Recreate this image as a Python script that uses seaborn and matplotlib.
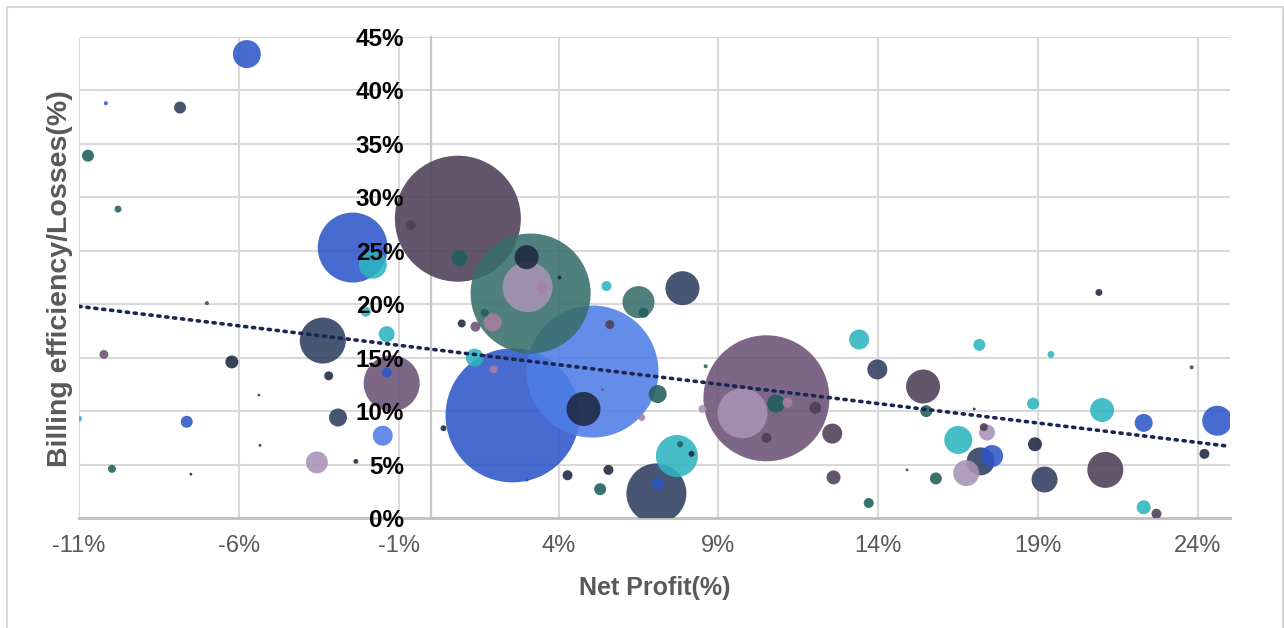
import numpy as np
import pandas as pd
import seaborn as sns
import matplotlib.pyplot as plt
from matplotlib.lines import Line2D

# ---------------- data ----------------
net_profit = [
    -5.75, -10.16, -7.84, -10.72, -9.78, -2.44, -1.81, 0.85, -0.63, -7.0,
    -2.03, -3.375, -1.375, -1.22, -1.375, -3.19, -6.22, -10.22, -5.375, -11.0,
    -7.63, -2.9, -1.5, -5.34, -3.56, -2.34, -9.97, -7.5, 0.9, 3.125,
    3.0, 3.03, 3.47, 4.03, 5.5, 6.5, 6.66, 7.875, 1.69, 0.97,
    1.4, 1.94, 5.06, 5.6, 2.56, 1.375, 1.97, 4.78, 5.375, 7.1,
    6.6, 0.4, 7.7, 7.8, 8.16, 7.06, 7.1, 4.28, 5.56, 5.3,
    3.0, 8.6, 8.5, 10.5, 9.75, 10.8, 11.16, 10.5, 12.03, 12.56,
    12.6, 13.4, 13.97, 15.4, 15.5, 17.16, 19.4, 23.8, 17.0, 16.5,
    17.3, 17.4, 17.2, 17.56, 16.75, 14.9, 15.8, 13.7, 18.84, 18.9,
    19.2, 21.0, 21.1, 22.3, 24.6, 24.2, 22.3, 22.7, 20.9,
]
billing_losses = [
    43.4, 38.8, 38.4, 33.9, 28.9, 25.3, 23.7, 28.0, 27.4, 20.1,
    19.3, 16.6, 17.2, 12.6, 13.6, 13.3, 14.6, 15.3, 11.5, 9.3,
    9.0, 9.4, 7.7, 6.8, 5.2, 5.3, 4.6, 4.1, 24.3, 21.0,
    24.4, 21.6, 21.5, 22.5, 21.7, 20.2, 19.2, 21.5, 19.2, 18.2,
    17.9, 18.3, 13.7, 18.1, 9.6, 15.0, 13.9, 10.2, 12.0, 11.6,
    9.4, 8.4, 5.8, 6.9, 6.0, 2.3, 3.2, 4.0, 4.5, 2.7,
    3.6, 14.2, 10.2, 11.2, 9.8, 10.7, 10.8, 7.5, 10.3, 7.9,
    3.8, 16.7, 13.9, 12.3, 10.0, 16.2, 15.3, 14.1, 10.2, 7.3,
    8.5, 8.0, 5.3, 5.8, 4.2, 4.5, 3.7, 1.4, 10.7, 6.9,
    3.6, 10.1, 4.5, 8.9, 9.1, 6.0, 1.0, 0.4, 21.1,
]
volume = [
    196, 4, 36, 36, 12, 1225, 196, 3969, 25, 4,
    25, 529, 64, 784, 25, 20, 42, 20, 2, 9,
    36, 81, 100, 2, 121, 6, 16, 2, 64, 3600,
    144, 625, 25, 4, 25, 256, 25, 289, 16, 16,
    25, 81, 4356, 20, 4489, 81, 16, 289, 2, 81,
    12, 9, 441, 9, 9, 900, 36, 25, 25, 36,
    4, 4, 16, 3969, 625, 81, 25, 25, 36, 100,
    49, 100, 100, 289, 36, 36, 12, 4, 2, 196,
    16, 64, 196, 121, 169, 2, 36, 25, 36, 49,
    169, 144, 324, 81, 225, 25, 49, 25, 12,
]
group = [
    "B", "B", "N", "T", "T", "B", "C", "P", "P", "P",
    "C", "N", "C", "M", "B", "K", "K", "M", "N", "C",
    "B", "N", "L", "K", "V", "K", "T", "K", "T", "G",
    "K", "V", "R", "K", "C", "G", "T", "N", "T", "K",
    "M", "R", "L", "P", "B", "C", "R", "K", "M", "T",
    "R", "K", "C", "T", "K", "N", "B", "K", "K", "T",
    "B", "T", "V", "M", "V", "T", "R", "P", "P", "P",
    "P", "C", "N", "P", "T", "C", "C", "P", "K", "C",
    "P", "V", "N", "B", "V", "N", "T", "T", "C", "K",
    "N", "C", "P", "B", "B", "K", "C", "P", "K",
]
# linear trend line as shown in the reference (Net Profit, Losses)
trend_x = [-11, 25]
trend_y = [19.8, 6.7]

x_ticks = [-11, -6, -1, 4, 9, 14, 19, 24]
y_ticks = [0, 5, 10, 15, 20, 25, 30, 35, 40, 45]
x_title = "Net Profit(%)"
y_title = "Billing efficiency/Losses(%)"

# ---------------- style ----------------
palette = {
    "N": "#2f3e60", "K": "#1e2840", "B": "#2d56c8", "L": "#4f7de6",
    "T": "#1f5f5c", "G": "#386f6b", "C": "#2db4c1", "P": "#4d3f57",
    "M": "#6b5277", "V": "#a892b6", "R": "#a97e9f",
}

sns.set_theme(style="white")
plt.rcParams['font.family'] = ['Liberation Sans', 'DejaVu Sans']

W, H = 1284, 628
fig = plt.figure(figsize=(W / 100, H / 100), dpi=100)
ax = fig.add_axes([79 / W, 1 - 518 / H, (1230 - 79) / W, (518 - 37) / H])

df = pd.DataFrame({"x": net_profit, "y": billing_losses,
                   "size": volume, "group": group})
df = df.sort_values("size", ascending=False)
vmax = max(volume)
smax = vmax * 2.0736  # area in pt^2 for bubble radius in px

sns.scatterplot(data=df, x="x", y="y", size="size", sizes=(0, smax),
                size_norm=(0, vmax), hue="group", palette=palette,
                alpha=0.88, linewidth=0, legend=False, ax=ax, zorder=3)

ax.plot(trend_x, trend_y, color="#1b2550", lw=2.6,
        linestyle=(0, (0.6, 1.6)), dash_capstyle="round", zorder=6)

# spines first (moving a spine resets tick label styles)
for s in ["top", "right"]:
    ax.spines[s].set_visible(False)
ax.spines["left"].set_position(("data", 0))
ax.spines["left"].set_color("#c8c8c8")
ax.spines["left"].set_linewidth(1.6)
ax.spines["bottom"].set_color("#bfbfbf")
ax.spines["bottom"].set_linewidth(2)

ax.set_xlim(-11, 25)
ax.set_ylim(0, 45)
ax.set_xticks(x_ticks)
ax.set_xticklabels([f"{v}%" for v in x_ticks], fontsize=17, color="#595959")
ax.set_yticks(y_ticks)
ax.set_yticklabels([f"{v}%" for v in y_ticks], fontsize=17.5,
                   fontweight="bold", color="black")
ax.tick_params(axis="x", length=0, pad=12)
ax.tick_params(axis="y", length=0, pad=19)

# vertical grid below the bubbles; horizontal grid drawn as lines so that
# the y tick labels can sit above the bubbles
ax.set_axisbelow(True)
ax.xaxis.grid(True, color="#d9d9d9", linewidth=1.5)
ax.yaxis.grid(False)
for yv in y_ticks[1:]:
    ax.axhline(yv, color="#d9d9d9", lw=1.5, zorder=0.6)
ax.yaxis.set_zorder(10)

ax.set_xlabel(x_title, fontsize=18, fontweight="bold", color="#595959",
              labelpad=14)
ax.set_ylabel("")
fig.text(60 / W, 1 - 279 / H, y_title, rotation=90, fontsize=20.5,
         fontweight="bold", color="#595959", ha="center", va="center")

# outer frame
for xs, ys in [((7, 1283), (7, 7)), ((7, 7), (7, 640)), ((1283, 1283), (7, 640))]:
    fig.add_artist(Line2D([x / W for x in xs], [1 - y / H for y in ys],
                          color="#d9d9d9", lw=1.5))

fig.savefig("out.png", dpi=100, facecolor="white")
